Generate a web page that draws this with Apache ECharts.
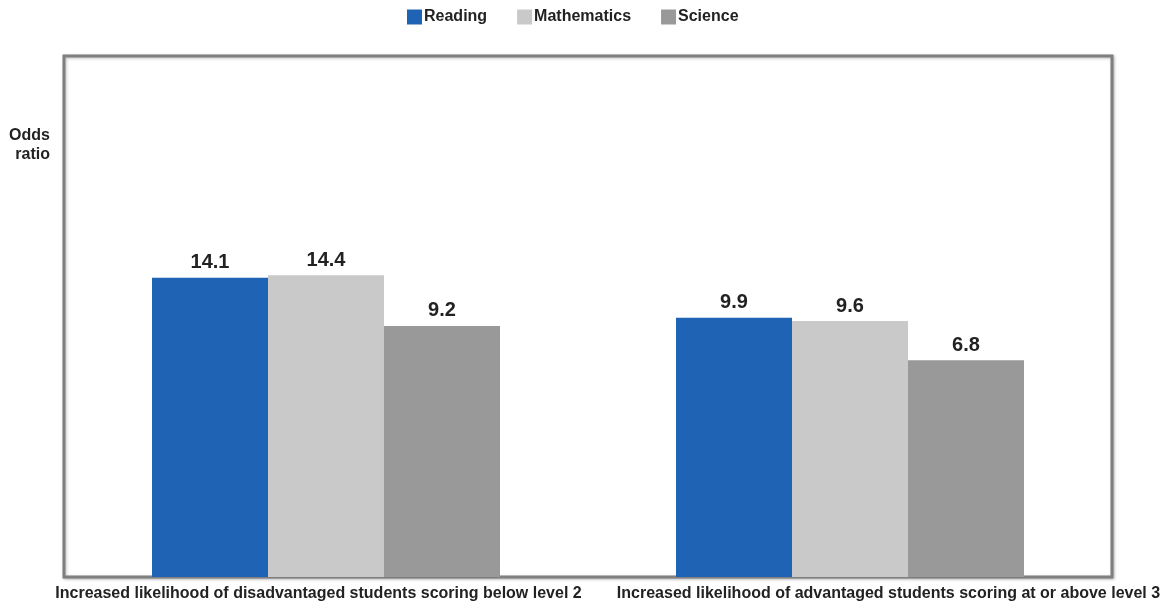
<!DOCTYPE html>
<html>
<head>
<meta charset="utf-8">
<script src="https://cdn.jsdelivr.net/npm/echarts@6/dist/echarts.min.js"></script>
<style>
  html, body { margin: 0; padding: 0; background: #fff; }
  #chart { width: 1169px; height: 605px; }
</style>
</head>
<body>
<div id="chart"></div>
<script>
// Odds ratios by subject, drawn on a logarithmic scale
const categories = [
  'Increased likelihood of disadvantaged students scoring below level 2',
  'Increased likelihood of advantaged students scoring at or above level 3'
];
const reading = [14.1, 9.9];
const mathematics = [14.4, 9.6];
const science = [9.2, 6.8];
const seriesNames = ['Reading', 'Mathematics', 'Science'];
const colors = ['#1f63b5', '#c9c9c9', '#999999'];

const FONT = '"Liberation Sans", Arial, sans-serif';

const chart = echarts.init(document.getElementById('chart'));

const valueLabel = {
  show: true,
  position: 'top',
  distance: 5,
  color: '#222',
  fontFamily: FONT,
  fontWeight: 'bold',
  fontSize: 20,
  formatter: p => p.value.toFixed(1)
};

function barSeries(name, data, color) {
  return {
    name: name,
    type: 'bar',
    data: data,
    barWidth: 116,
    barGap: '0%',
    itemStyle: { color: color },
    label: valueLabel,
    emphasis: { disabled: true }
  };
}

chart.setOption({
  animation: false,
  color: colors,
  legend: {
    top: 4,
    left: 402,
    itemWidth: 15,
    itemHeight: 15,
    itemGap: 30,
    icon: 'rect',
    textStyle: { fontFamily: FONT, fontWeight: 'bold', fontSize: 16, color: '#222', padding: [0, 0, 0, -3] },
    data: seriesNames
  },
  grid: {
    left: 64, right: 57, top: 56, bottom: 28,
    show: true,
    borderColor: '#7f7f7f',
    borderWidth: 3,
    backgroundColor: '#fff',
    shadowColor: 'rgba(0,0,0,0.25)',
    shadowBlur: 3,
    shadowOffsetX: 1,
    shadowOffsetY: 1
  },
  xAxis: {
    type: 'category',
    data: categories,
    axisLine: { show: false },
    axisTick: { show: false },
    axisLabel: {
      interval: 0,
      margin: 9,
      formatter: (v, i) => (i === 0 ? '{a|' + v + '}' : '{b|' + v + '}'),
      rich: {
        a: { fontFamily: FONT, fontWeight: 'bold', fontSize: 16, color: '#222', padding: [0, 15, 0, 0] },
        b: { fontFamily: FONT, fontWeight: 'bold', fontSize: 16, color: '#222', padding: [0, 0, 0, 77] }
      }
    }
  },
  yAxis: {
    type: 'log',
    logBase: 10,
    min: 1,
    max: 100,
    axisLine: { show: false },
    axisTick: { show: false },
    axisLabel: { show: false },
    splitLine: { show: false }
  },
  graphic: [{
    type: 'text',
    x: 50,
    y: 126,
    style: {
      text: 'Odds\nratio',
      align: 'right',
      verticalAlign: 'top',
      fontFamily: FONT,
      fontWeight: 'bold',
      fontSize: 16,
      lineHeight: 19,
      fill: '#222'
    }
  }],
  series: [
    barSeries(seriesNames[0], reading, colors[0]),
    barSeries(seriesNames[1], mathematics, colors[1]),
    barSeries(seriesNames[2], science, colors[2])
  ]
});
</script>
</body>
</html>
